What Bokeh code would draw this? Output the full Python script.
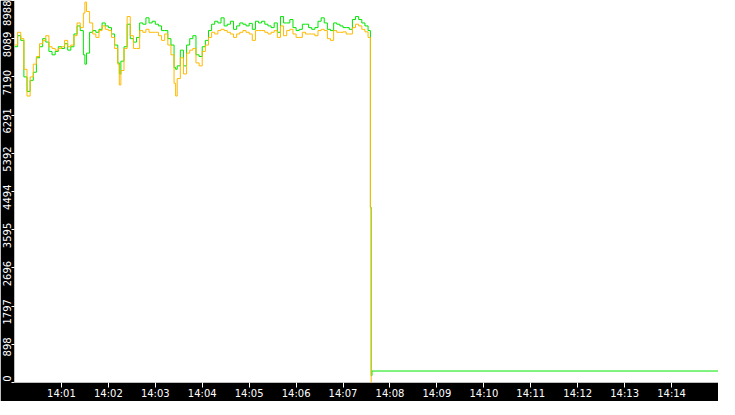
from datetime import datetime
from bokeh.plotting import figure
from bokeh.models import (Range1d, FixedTicker, DatetimeTickFormatter, LinearAxis,
                          CustomJSTickFormatter)
from bokeh.embed import file_html
from bokeh.resources import INLINE

# ---- data (seconds after 14:00:00) ----
sample_sec = [0, 4, 8, 12, 16, 20, 24, 28, 32, 36, 40, 44, 48, 52, 56, 60, 64, 68, 72, 76,
              80, 84, 88, 90, 92, 96, 100, 104, 108, 112, 116, 120, 124, 128, 132, 134, 136,
              140, 144, 148, 152,
              156, 160, 164, 168, 172, 176, 180, 184, 188, 192, 196, 200, 204, 206, 208, 212,
              216, 220, 224, 228, 232, 236, 240, 244, 248, 252, 256, 260, 264, 268, 272, 276,
              280, 284, 288, 292, 296, 300, 304, 308,
              312, 316, 320, 324, 328, 332, 336, 340, 344, 348, 352, 356, 360, 364, 368, 372,
              376, 380, 384, 388, 392, 396, 400, 404, 408, 412, 416, 420, 424, 428, 432, 436,
              440, 444, 448, 452]

orange_vals = [7940, 8240, 8090, 7370, 6740, 7190, 7490, 7670, 7970, 8050, 8160, 7900, 7860, 7820,
               7860, 7900, 8050, 7900, 7940, 8160, 8460, 8350, 8690, 8950, 8730, 8460, 8200, 8120,
               8280, 8390, 8310, 8280, 8120, 7860, 7490, 7000, 7340, 7860, 8610, 8160, 7860,
               7860, 8280, 8240, 8310, 8240, 8240, 8240, 8160, 8050, 8200, 7940, 7710, 7040, 6740,
               7150, 7640, 7260, 7750, 7820, 7860, 7520, 7450, 7790, 7940, 8120, 8240, 8200, 8280,
               8310, 8280, 8240, 8200, 8120, 8200, 8240, 8280, 8240, 8200, 8050, 8280,
               8280, 8280, 8240, 8200, 8240, 8280, 8120, 8390, 8160, 8280, 8310, 8200, 8120, 8120,
               8240, 8200, 8200, 8200, 8160, 8280, 8310, 8280, 8090, 8050, 8280, 8240, 8240, 8250,
               8200, 8200, 8350, 8430, 8390, 8310, 8250, 8120]

green_vals = [7900, 8160, 8050, 7190, 6850, 7110, 7300, 7640, 7900, 8090, 8010, 7790, 7710, 7790,
              7900, 7860, 7970, 7820, 7900, 8200, 8390, 8280, 7710, 7490, 7750, 8240, 8280, 8240,
              8310, 8460, 8390, 8350, 8200, 7940, 7520, 7260, 7560, 7900, 8430, 8090, 8010,
              8120, 8460, 8430, 8580, 8460, 8500, 8430, 8390, 8280, 8280, 8090, 7940, 7410, 7370,
              7450, 7820, 7450, 7940, 8090, 8160, 7710, 7670, 7900, 8050, 8280, 8430, 8500, 8460,
              8580, 8390, 8430, 8500, 8310, 8390, 8460, 8430, 8390, 8450, 8310, 8500,
              8460, 8500, 8430, 8390, 8350, 8460, 8240, 8610, 8460, 8460, 8540, 8350, 8280, 8310,
              8430, 8430, 8350, 8310, 8350, 8500, 8580, 8460, 8310, 8280, 8460, 8430, 8390, 8350,
              8350, 8310, 8540, 8610, 8540, 8460, 8390, 8280]

orange_tail_sec = [455, 456, 457]
orange_tail_vals = [4100, 0, 0]
green_tail_sec = [455, 456, 457, 900]
green_tail_vals = [4120, 160, 270, 270]

x_tick_minutes = [1, 2, 3, 4, 5, 6, 7, 8, 9, 10, 11, 12, 13, 14]
y_ticks = [0, 898.8, 1797.6, 2696.4, 3595.2, 4494, 5392.8, 6291.6, 7190.4, 8089.2, 8988]
y_tick_labels = ["0", "898", "1797", "2696", "3595", "4494", "5392", "6291", "7190", "8089", "8988"]
y_max = 8988
span_minutes = 15

# ---- build ----
FRAME_W, FRAME_H = 704, 382
base_ms = (datetime(2024, 1, 1, 14, 0, 0) - datetime(1970, 1, 1)).total_seconds() * 1000.0

def to_ms(secs):
    return [base_ms + s * 1000.0 for s in secs]

ox = to_ms(sample_sec + orange_tail_sec)
oy = orange_vals + orange_tail_vals
gx = to_ms(sample_sec + green_tail_sec)
gy = green_vals + green_tail_vals

p = figure(frame_width=FRAME_W, frame_height=FRAME_H, x_axis_type="datetime",
           output_backend="svg", toolbar_location=None,
           x_range=Range1d(base_ms, base_ms + span_minutes * 60000),
           y_range=Range1d(0, y_max))
p.min_border_left = 0
p.min_border_right = 0
p.min_border_top = 0
p.min_border_bottom = 0
p.background_fill_color = "white"
p.border_fill_color = "black"
p.outline_line_color = None
p.grid.visible = False

p.step(gx, gy, mode="after", line_color="#00e600", line_width=1)
p.step(ox, oy, mode="after", line_color="#ffb900", line_width=1)

xa = p.xaxis[0]
xa.ticker = FixedTicker(ticks=[base_ms + m * 60000 for m in x_tick_minutes])
fmt = "%H:%M"
xa.formatter = DatetimeTickFormatter(seconds=fmt, minsec=fmt, minutes=fmt, hourmin=fmt, hours=fmt)
xa.axis_line_color = None
xa.major_tick_line_color = "white"
xa.major_tick_out = 5
xa.major_tick_in = 0
xa.minor_tick_line_color = None
xa.major_label_text_color = "white"
xa.major_label_text_font = "DejaVu Sans"
xa.major_label_text_font_size = "10px"
xa.major_label_standoff = 0

# inner left axis: tick marks only
ya = p.yaxis[0]
ya.ticker = FixedTicker(ticks=y_ticks)
ya.axis_line_color = None
ya.major_tick_line_color = "white"
ya.major_tick_out = 3
ya.major_tick_in = 0
ya.minor_tick_line_color = None
ya.major_label_text_color = None
ya.major_label_text_font_size = "1px"
ya.major_label_standoff = 0

# outer left axis: rotated labels, placed like the original (end just above each tick)
px_to_data = y_max / FRAME_H
char_px = 6.36
label_pos = []
for v, txt in zip(y_ticks, y_tick_labels):
    half = len(txt) * char_px / 2
    tick_from_top = (y_max - v) / px_to_data
    center_from_top = max(tick_from_top + half - 7, half)
    label_pos.append(y_max - center_from_top * px_to_data)

yl = LinearAxis(ticker=FixedTicker(ticks=label_pos),
                formatter=CustomJSTickFormatter(args=dict(labels=y_tick_labels),
                                                code="return labels[index];"))
yl.axis_line_color = None
yl.major_tick_line_color = None
yl.major_tick_out = 0
yl.major_tick_in = 0
yl.minor_tick_line_color = None
yl.major_label_orientation = "vertical"
yl.major_label_text_color = "white"
yl.major_label_text_font = "DejaVu Sans"
yl.major_label_text_font_size = "10px"
yl.major_label_standoff = 0
p.add_layout(yl, "left")

open("out.html", "w").write(file_html(p, INLINE))
